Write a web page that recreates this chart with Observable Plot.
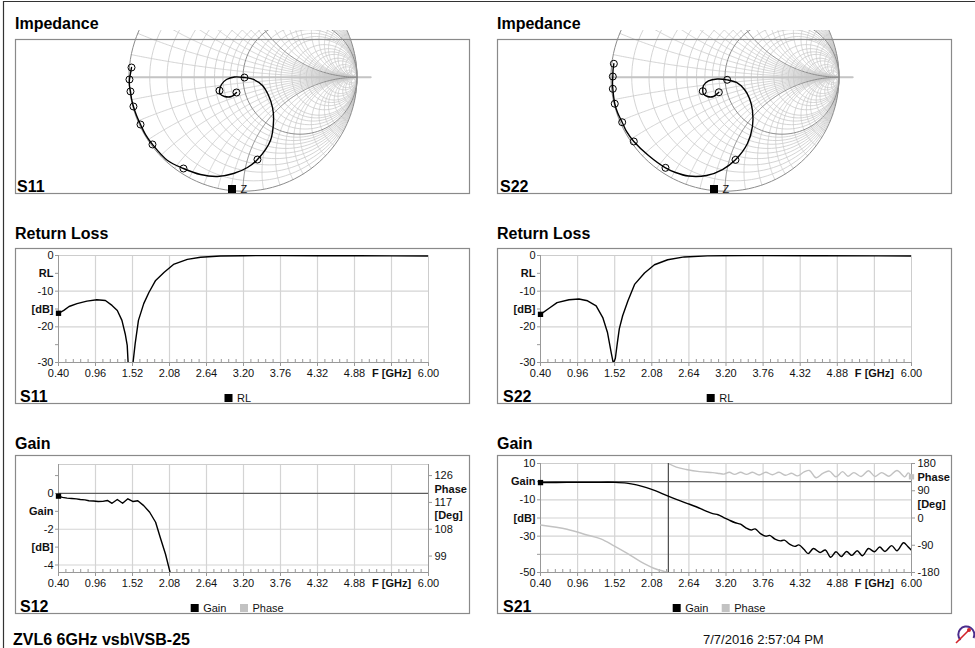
<!DOCTYPE html>
<html>
<head>
<meta charset="utf-8">
<script src="https://cdn.jsdelivr.net/npm/d3@7"></script>
<script src="https://cdn.jsdelivr.net/npm/@observablehq/plot@0.6"></script>
<style>
  html, body { margin: 0; padding: 0; background: #fff; }
  #page { position: relative; width: 975px; height: 648px; overflow: hidden; background: #fff; }
  #page svg { display: block; }
</style>
</head>
<body>
<div id="page"></div>
<script>
// ---------------- frequency axis ----------------
const freqTicks = [0.40, 0.96, 1.52, 2.08, 2.64, 3.20, 3.76, 4.32, 4.88, 5.44, 6.00];
const freqNameAt = 5.44;
const freqAxisLabel = "F [GHz]";

// ---------------- impedance traces (reflection coefficient) ----------------
const zFreq = [0.40, 0.55, 0.70, 0.85, 0.96, 1.08, 1.20, 1.35, 1.52, 1.62, 1.72, 1.82, 1.90, 1.96, 2.02, 2.08,
               2.20, 2.32, 2.45, 2.55, 2.64, 2.92, 3.20, 3.48, 3.76, 4.04, 4.32, 4.60, 4.88, 5.16, 5.44, 5.72, 6.00];
const s11Re = [-0.057, -0.101, -0.162, -0.202, -0.206, -0.189, -0.145, -0.075, 0.013, 0.092, 0.171, 0.224, 0.259, 0.268, 0.241, 0.127,
               0.039, -0.083, -0.224, -0.373, -0.522, -0.662, -0.794, -0.855, -0.899, -0.934, -0.961, -0.978, -0.987, -0.996, -0.996, -0.987, -0.978];
const s11Im = [-0.134, -0.169, -0.169, -0.147, -0.117, -0.064, -0.020, 0.002, -0.003, -0.020, -0.073, -0.161, -0.266, -0.380, -0.555, -0.722,
               -0.792, -0.845, -0.871, -0.854, -0.801, -0.731, -0.590, -0.503, -0.415, -0.336, -0.257, -0.187, -0.125, -0.073, -0.020, 0.032, 0.085];
const s22Re = [-0.054, -0.101, -0.154, -0.189, -0.195, -0.189, -0.145, -0.068, 0.019, 0.101, 0.171, 0.215, 0.241, 0.241, 0.197, 0.092,
               -0.022, -0.162, -0.320, -0.434, -0.522, -0.671, -0.800, -0.864, -0.902, -0.943, -0.967, -0.978, -0.984, -0.987, -0.984, -0.982, -0.975];
const s22Im = [-0.132, -0.169, -0.169, -0.147, -0.123, -0.073, -0.033, -0.016, -0.023, -0.046, -0.108, -0.187, -0.292, -0.432, -0.582, -0.725,
               -0.810, -0.862, -0.867, -0.836, -0.795, -0.687, -0.564, -0.476, -0.395, -0.310, -0.233, -0.161, -0.102, -0.046, 0.006, 0.063, 0.118];

// Smith chart grid: normalised resistance circles and reactance arcs
const smithResistance = [0.1, 0.2, 0.3, 0.4, 0.5, 0.6, 0.7, 0.8, 0.9, 1, 1.2, 1.4, 1.6, 1.8, 2, 2.5, 3, 3.5, 4, 5, 6, 8, 10, 15, 20, 50];
const smithReactance = [0.1, 0.2, 0.3, 0.4, 0.5, 0.6, 0.7, 0.8, 0.9, 1, 1.2, 1.4, 1.6, 1.8, 2, 2.5, 3, 3.5, 4, 5, 6, 8, 10, 15, 20, 50];
const smithEmphasis = [1];

// ---------------- return loss ----------------
const rlS11Freq = [0.40, 0.48, 0.56, 0.68, 0.83, 0.98, 1.11, 1.21, 1.29, 1.36, 1.41, 1.44, 1.455, 1.49, 1.525, 1.56, 1.61, 1.69, 1.77, 1.87,
                   2.00, 2.14, 2.35, 2.55, 2.85, 3.20, 3.76, 4.32, 4.88, 5.44, 6.00];
const rlS11Db = [-16.2, -15.4, -14.3, -13.5, -12.8, -12.4, -12.6, -14.0, -15.4, -18.2, -22.0, -25.2, -30.5, -42.0, -30.5, -24.8, -18.2, -13.5, -10.3, -7.0,
                 -4.7, -2.5, -1.1, -0.5, -0.15, -0.05, 0, -0.05, -0.05, -0.1, -0.15];
const rlS22Freq = [0.40, 0.53, 0.65, 0.83, 0.98, 1.11, 1.24, 1.34, 1.41, 1.47, 1.50, 1.53, 1.56, 1.59, 1.64, 1.72, 1.82, 1.97, 2.12, 2.32,
                   2.57, 2.92, 3.50, 4.50, 5.50, 6.00];
const rlS22Db = [-16.5, -14.8, -13.2, -12.4, -12.2, -12.7, -14.1, -17.4, -21.5, -27.5, -30.3, -28.8, -24.5, -20.5, -16.9, -12.7, -8.1, -4.9, -2.6, -1.2,
                 -0.4, -0.1, 0, -0.05, -0.1, -0.15];

// ---------------- transmission ----------------
const s12Freq = [0.40, 0.46, 0.53, 0.60, 0.67, 0.73, 0.80, 0.86, 0.93, 1.00, 1.07, 1.14, 1.21, 1.29, 1.37, 1.45, 1.53, 1.60, 1.69, 1.78,
                 1.87, 1.94, 2.02, 2.09, 2.14];
const s12GainDb = [-0.15, -0.22, -0.26, -0.28, -0.30, -0.34, -0.36, -0.41, -0.42, -0.45, -0.44, -0.39, -0.55, -0.34, -0.55, -0.30, -0.45, -0.41, -0.68, -1.05,
                   -1.61, -2.46, -3.40, -4.43, -5.30];

const s21Freq = [0.40, 0.80, 1.20, 1.52, 1.70, 1.85, 2.00, 2.15, 2.30, 2.45, 2.60, 2.75, 2.90, 3.00, 3.08, 3.16, 3.25, 3.34, 3.42, 3.50,
                 3.58, 3.64, 3.72, 3.80, 3.86, 3.94, 4.02, 4.08, 4.16, 4.24, 4.30, 4.38, 4.44, 4.52, 4.62, 4.70, 4.78, 4.86, 4.94, 5.02,
                 5.10, 5.18, 5.26, 5.35, 5.44, 5.52, 5.60, 5.70, 5.78, 5.88, 5.94, 6.00];
const s21GainDb = [-0.5, -0.4, -0.4, -0.4, -0.8, -1.8, -3.3, -5.2, -7.6, -9.8, -11.8, -13.8, -16.2, -17.6, -18.2, -19.6, -21.2, -22.6, -23.4, -25.4,
                   -26.6, -26.0, -28.6, -30.0, -29.6, -31.6, -32.6, -32.2, -34.4, -35.6, -34.8, -37.4, -39.6, -36.8, -39.0, -37.6, -41.6, -38.6, -41.2, -38.4,
                   -40.6, -38.0, -40.8, -36.8, -38.6, -36.0, -38.4, -35.2, -38.0, -33.6, -35.5, -37.8];

const s21PhaseFreq = [0.40, 0.80, 1.10, 1.31, 1.51, 1.71, 1.91, 2.11, 2.31, 2.33,
                      2.33, 2.45, 2.60, 2.80, 3.00, 3.10, 3.17, 3.25, 3.33, 3.42, 3.51, 3.60, 3.70, 3.80, 3.90, 4.00, 4.10, 4.19, 4.28, 4.38,
                      4.46, 4.56, 4.66, 4.76, 4.86, 4.96, 5.04, 5.13, 5.24, 5.35, 5.45, 5.55, 5.66, 5.78, 5.90, 5.95, 6.00];
const s21PhaseDeg = [-23, -37, -56, -69, -92, -117, -144, -166, -179, -180,
                     180, 168, 160, 153, 150, 147, 145, 151, 144, 151, 144, 151, 142, 151, 143, 151, 141, 148, 139, 152,
                     157, 133, 147, 155, 136, 153, 138, 150, 137, 156, 137, 150, 138, 157, 136, 149, 136];

// ---------------- labels ----------------
const footerDevice = "ZVL6 6GHz vsb\\VSB-25";
const footerTime = "7/7/2016 2:57:04 PM";

// secondary (phase) axis shares the gain axis through phase = 6·gain + 120
const phaseToGain = p => (p - 120) / 6;

const FONT = '"Liberation Sans", Arial, Helvetica, sans-serif';
const page = document.getElementById("page");
const columns = [{box: 15, plotL: 58, plotR: 428}, {box: 497, plotL: 540, plotR: 911}];
const BOXW = 455;

function place(node, left, top) {
  node.style.position = "absolute";
  node.style.left = left + "px";
  node.style.top = top + "px";
  page.appendChild(node);
}

const baseStyle = {background: "transparent", fontFamily: FONT, fontSize: "11px", color: "#111", overflow: "hidden"};

// ---------------- Smith chart ----------------
function smithGrid() {
  const light = [], dark = [];
  const circ = (r, key, out) => {
    const c = r / (1 + r), rad = 1 / (1 + r);
    for (let a = 0; a <= 360; a += 3) {
      const t = a * Math.PI / 180;
      out.push({key, x: c + rad * Math.cos(t), y: rad * Math.sin(t)});
    }
  };
  const arc = (x, key, out) => {
    for (let a = 0; a < 90; a += 0.5) {
      const r = Math.tan(a * Math.PI / 180);
      const D = (r + 1) * (r + 1) + x * x;
      out.push({key, x: (r * r + x * x - 1) / D, y: 2 * x / D});
    }
    out.push({key, x: 1, y: 0});
  };
  circ(0, "r0", dark);
  for (const r of smithResistance) circ(r, "r" + r, smithEmphasis.includes(r) ? dark : light);
  for (const x of smithReactance) {
    const out = smithEmphasis.includes(x) ? dark : light;
    arc(x, "x+" + x, out);
    arc(-x, "x-" + x, out);
  }
  return {light, dark};
}
const grid = smithGrid();

function smithPanel(col, re, im) {
  const cx = 227.5, cy = 46.7, R = 114;
  const trace = zFreq.map((f, i) => ({f, re: re[i], im: im[i]}));
  const markers = trace.filter(d => freqTicks.some(t => Math.abs(t - d.f) < 1e-9));
  const svg = Plot.plot({
    width: BOXW, height: 164, margin: 0,
    style: baseStyle,
    x: {domain: [-1, 1], range: [cx - R, cx + R], axis: null},
    y: {domain: [-1, 1], range: [cy + R, cy - R], axis: null},
    marks: [
      Plot.line(grid.light, {x: "x", y: "y", z: "key", stroke: "#c9c9c9", strokeWidth: 0.8, clip: true}),
      Plot.line([{x: -1, y: 0}, {x: 1.12, y: 0}], {x: "x", y: "y", stroke: "#c4c4c4", strokeWidth: 2, clip: true}),
      Plot.line(grid.dark, {x: "x", y: "y", z: "key", stroke: "#8c8c8c", strokeWidth: 1, clip: true}),
      Plot.line(trace, {x: "re", y: "im", stroke: "#000", strokeWidth: 1.4, curve: "catmull-rom", clip: true}),
      Plot.dot(markers, {x: "re", y: "im", r: 3.5, stroke: "#000", fill: "none", strokeWidth: 1, clip: true})
    ]
  });
  place(svg, columns[col].box, 30);
}

// ---------------- swept panels ----------------
function sweepPanel(c) {
  const g = columns[c.col];
  const mLeft = g.plotL - g.box, mRight = g.box + BOXW - g.plotR, mBottom = 42;
  const plotH = c.height - c.mTop - mBottom;
  const [y0, y1] = c.yDomain;
  const up = (y1 - y0) * 3 / plotH;
  const minor = [];
  for (let i = 0; i + 1 < freqTicks.length; i++)
    for (let k = 1; k < 5; k++) minor.push(freqTicks[i] + (freqTicks[i + 1] - freqTicks[i]) * k / 5);
  const wordMap = new Map(c.leftWords.map(d => [d.v, d.label]));
  const axisGray = "#999";
  const ax = {label: null, stroke: axisGray, fill: "#111"};
  const marks = [
    Plot.ruleX(freqTicks.slice(1, -1), {stroke: "#d4d4d4", strokeWidth: 1.2}),
    Plot.ruleY(c.yGrid, {stroke: "#d4d4d4", strokeWidth: 1.2}),
    Plot.frame({stroke: "#cdcdcd"}),
    Plot.ruleX(minor, {y1: y0, y2: y0 + up, stroke: axisGray}),
    Plot.ruleX([freqTicks[0]], {stroke: axisGray}),
    Plot.ruleY([y0], {stroke: axisGray}),
    Plot.axisX({...ax, ticks: freqTicks.filter(t => t !== freqNameAt), tickFormat: d => d.toFixed(2), tickSize: 4, tickPadding: 3}),
    Plot.axisX({...ax, ticks: [freqNameAt], tickFormat: () => freqAxisLabel, tickSize: 4, tickPadding: 3, fontWeight: "bold"}),
    Plot.axisY({...ax, ticks: c.leftNum, tickFormat: d => String(d), tickSize: 3, tickPadding: 2}),
    Plot.axisY({...ax, ticks: [...wordMap.keys()], tickFormat: d => wordMap.get(d), tickSize: 3, tickPadding: 2, fontWeight: "bold"})
  ];
  if (c.right) {
    const num = new Map(c.right.num.map(p => [phaseToGain(p), String(p)]));
    const words = new Map(c.right.words.map(d => [phaseToGain(d.v), d.label]));
    marks.push(
      Plot.ruleX([freqTicks[freqTicks.length - 1]], {stroke: axisGray}),
      Plot.axisY({...ax, anchor: "right", ticks: [...num.keys()], tickFormat: v => num.get(v), tickSize: 3, tickPadding: 3}),
      Plot.axisY({...ax, anchor: "right", ticks: [...words.keys()], tickFormat: v => words.get(v), tickSize: 0, tickPadding: 6, fontWeight: "bold"})
    );
  }
  if (c.ref !== undefined) marks.push(Plot.ruleY([c.ref], {stroke: "#5c5c5c", strokeWidth: 1.2}));
  marks.push(...c.marks);
  const svg = Plot.plot({
    width: BOXW, height: c.height,
    marginLeft: mLeft, marginRight: mRight, marginTop: c.mTop, marginBottom: mBottom,
    style: baseStyle,
    x: {domain: [freqTicks[0], freqTicks[freqTicks.length - 1]]},
    y: {domain: c.yDomain},
    marks
  });
  place(svg, g.box, c.top);
}

const table = (fs, vs) => fs.map((f, i) => ({f, v: vs[i]}));

function returnLossPanel(col, freq, db) {
  const data = table(freq, db);
  sweepPanel({
    col, top: 248, height: 156, mTop: 7,
    yDomain: [-30, 0],
    leftNum: [0, -10, -20, -30],
    leftWords: [{v: -5, label: "RL"}, {v: -15, label: "[dB]"}, {v: -25, label: ""}],
    yGrid: [-10, -20],
    marks: [
      Plot.line(data, {x: "f", y: "v", stroke: "#000", strokeWidth: 1.4, clip: true}),
      Plot.dot([data[0]], {x: "f", y: "v", symbol: "square", r: 3, fill: "#000"})
    ]
  });
}

// phase branches split where the trace wraps from -180 to +180
function phaseTable(freq, deg) {
  let branch = 0;
  return freq.map((f, i) => {
    if (i > 0 && Math.abs(deg[i] - deg[i - 1]) > 180) branch++;
    return {f, deg: deg[i], branch};
  });
}

smithPanel(0, s11Re, s11Im);
smithPanel(1, s22Re, s22Im);
returnLossPanel(0, rlS11Freq, rlS11Db);
returnLossPanel(1, rlS22Freq, rlS22Db);

{
  const gain = table(s12Freq, s12GainDb);
  sweepPanel({
    col: 0, top: 455, height: 159, mTop: 9,
    yDomain: [-4.42, 1.62],
    leftNum: [0, -2, -4],
    leftWords: [{v: 1, label: ""}, {v: -1, label: "Gain"}, {v: -3, label: "[dB]"}],
    yGrid: [-2, -4],
    ref: 0,
    right: {num: [126, 117, 108, 99], words: [{v: 121.5, label: "Phase"}, {v: 112.5, label: "[Deg]"}]},
    marks: [
      Plot.line(gain, {x: "f", y: "v", stroke: "#000", strokeWidth: 1.4, clip: true}),
      Plot.dot([gain[0]], {x: "f", y: "v", symbol: "square", r: 3, fill: "#000"})
    ]
  });
}
{
  const gain = table(s21Freq, s21GainDb);
  const phase = phaseTable(s21PhaseFreq, s21PhaseDeg);
  const wrap = phase.find(d => d.branch === 1);
  sweepPanel({
    col: 1, top: 455, height: 159, mTop: 8,
    yDomain: [-50, 10],
    leftNum: [10, -10, -30, -50],
    leftWords: [{v: 0, label: "Gain"}, {v: -20, label: "[dB]"}, {v: -40, label: ""}],
    yGrid: [-10, -20, -30, -40],
    ref: 0,
    right: {num: [180, 90, 0, -90, -180], words: [{v: 135, label: "Phase"}, {v: 45, label: "[Deg]"}]},
    marks: [
      Plot.line(phase, {x: "f", y: d => phaseToGain(d.deg), z: "branch", stroke: "#c2c2c2", strokeWidth: 1.4, curve: "catmull-rom", clip: true}),
      Plot.ruleX([wrap.f], {stroke: "#4a4a4a", strokeWidth: 1.2}),
      Plot.line(gain, {x: "f", y: "v", stroke: "#000", strokeWidth: 1.4, curve: "catmull-rom", clip: true}),
      Plot.dot([gain[0]], {x: "f", y: "v", symbol: "square", r: 3, fill: "#000"}),
      Plot.dot([phase[phase.length - 1]], {x: "f", y: d => phaseToGain(d.deg), symbol: "square", r: 3, fill: "#c2c2c2"})
    ]
  });
}

// ---------------- page furniture: frame, titles, legends, footer ----------------
const NS = "http://www.w3.org/2000/svg";
const over = document.createElementNS(NS, "svg");
over.setAttribute("width", 975);
over.setAttribute("height", 648);
over.setAttribute("font-family", FONT);
function el(tag, attrs, text) {
  const e = document.createElementNS(NS, tag);
  for (const k in attrs) e.setAttribute(k, attrs[k]);
  if (text !== undefined) e.textContent = text;
  over.appendChild(e);
  return e;
}
el("path", {d: "M3.5,648 V1.5 H975", fill: "none", stroke: "#333", "stroke-width": 1.2});

const rows = [
  {title: "Impedance", titleY: 29.3, top: 39, bottom: 194, tag: ["S11", "S22"], tagY: 191.5},
  {title: "Return Loss", titleY: 239.3, top: 248, bottom: 404, tag: ["S11", "S22"], tagY: 401.5},
  {title: "Gain", titleY: 449.3, top: 455, bottom: 614, tag: ["S12", "S21"], tagY: 611.5}
];
rows.forEach((r, ri) => {
  columns.forEach((g, ci) => {
    el("rect", {x: g.box + 0.5, y: r.top + 0.5, width: BOXW - 1, height: r.bottom - r.top - 1, fill: "none", stroke: "#8a8a8a", "stroke-width": 1.2});
    el("text", {x: g.box, y: r.titleY, "font-size": 16, "font-weight": "bold", fill: "#000"}, r.title);
    el("text", {x: g.box + (ri === 0 ? 2 : 5) + (ci ? 1 : 0), y: r.tagY, "font-size": 16, "font-weight": "bold", fill: "#000"}, r.tag[ci]);
  });
});

// legends
function legendItem(x, y, color, label) {
  el("rect", {x, y, width: 8, height: 8, fill: color});
  el("text", {x: x + 12.5, y: y + 8.3, "font-size": 11, fill: "#111"}, label);
}
legendItem(228, 185, "#000", "Z");
legendItem(710, 185, "#000", "Z");
legendItem(224.5, 394, "#000", "RL");
legendItem(706.7, 394, "#000", "RL");
legendItem(190.7, 604, "#000", "Gain");
legendItem(240, 604, "#c2c2c2", "Phase");
legendItem(672.7, 604, "#000", "Gain");
legendItem(721.7, 604, "#c2c2c2", "Phase");

// footer
el("text", {x: 13, y: 645, "font-size": 16, "font-weight": "bold", fill: "#000"}, footerDevice);
el("text", {x: 703, y: 644, "font-size": 13, fill: "#111"}, footerTime);

// maker's emblem
el("path", {d: "M960.5,640 A8,8 0 1 1 973.5,638", fill: "none", stroke: "#4b2c8c", "stroke-width": 2});
el("path", {d: "M956,643 L969,630", stroke: "#d2232a", "stroke-width": 1.6});
el("circle", {cx: 969, cy: 630, r: 2, fill: "#d2232a"});

over.style.position = "absolute";
over.style.left = "0px";
over.style.top = "0px";
page.appendChild(over);
</script>
</body>
</html>
